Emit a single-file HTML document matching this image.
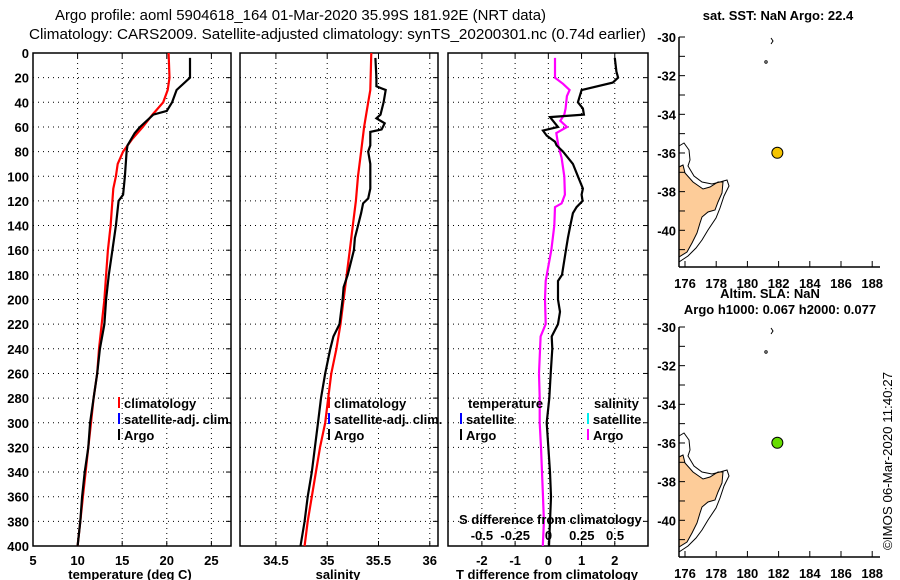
<!DOCTYPE html>
<html><head><meta charset="utf-8"><style>
body{margin:0;background:#fff}
svg{display:block;font-family:"Liberation Sans",sans-serif}
.t{font-size:13px;font-weight:bold;fill:#000}
</style></head><body>
<svg id="c" width="900" height="580" xmlns="http://www.w3.org/2000/svg">
<text x="55" y="20" font-size="15" textLength="491" lengthAdjust="spacingAndGlyphs">Argo profile: aoml 5904618_164 01-Mar-2020 35.99S 181.92E (NRT data)</text>
<text x="29" y="39" font-size="15" textLength="617" lengthAdjust="spacingAndGlyphs">Climatology: CARS2009. Satellite-adjusted climatology: synTS_20200301.nc (0.74d earlier)</text>
<g id="g"></g>
<text class="t" transform="translate(892,550) rotate(-90)" font-weight="normal" style="font-weight:normal" font-size="13" textLength="178" lengthAdjust="spacingAndGlyphs">©IMOS 06-Mar-2020 11:40:27</text>
</svg>
<script>
// ---- data ----
const tempArgoDepth=[4,20,30,40,47,50,60,65,75,80,100,115,120,140,160,180,200,220,240,260,280,300,320,340,360,380,400];
const tempArgo=[22.6,22.6,21.1,20.6,20.0,18.5,17.0,16.4,15.6,15.5,15.3,15.1,14.6,14.3,13.9,13.5,13.2,13.0,12.5,12.2,11.8,11.4,11.2,10.8,10.5,10.3,10.0];
const tempClimDepth=[0,20,30,40,50,60,70,80,90,100,110,120,140,160,180,200,220,240,260,280,300,320,340,360,380,400];
const tempClim=[20.2,20.3,20.1,19.6,18.4,17.3,16.1,15.1,14.5,14.3,14.0,13.9,13.7,13.4,13.2,13.0,12.7,12.4,12.2,11.8,11.5,11.2,10.9,10.6,10.3,10.0];
const salArgoDepth=[4,20,27,30,40,50,53,57,62,64,75,80,90,110,118,122,130,140,150,160,180,190,200,220,230,240,260,280,300,320,340,360,380,400];
const salArgo=[35.47,35.48,35.48,35.57,35.55,35.52,35.48,35.56,35.53,35.42,35.42,35.40,35.42,35.42,35.40,35.35,35.33,35.30,35.27,35.26,35.20,35.16,35.15,35.12,35.06,35.03,34.98,34.94,34.91,34.88,34.85,34.81,34.78,34.74];
const salClimDepth=[0,30,40,60,80,100,120,140,160,180,200,220,240,260,280,300,320,340,360,380,400];
const salClim=[35.43,35.42,35.40,35.36,35.33,35.30,35.28,35.25,35.22,35.19,35.16,35.13,35.09,35.04,35.01,34.98,34.93,34.89,34.85,34.81,34.78];
const tDiffDepth=[4,15,20,24,30,40,45,50,52,57,60,63,67,72,75,80,90,100,110,115,120,125,130,140,150,160,180,185,200,210,220,230,240,260,280,300,340,360,380,400];
const tDiff=[2.0,2.05,2.1,1.94,1.0,0.89,1.04,1.07,0.05,0.2,0.29,-0.16,-0.05,0.2,0.25,0.44,0.74,0.89,1.04,1.0,1.03,0.85,0.74,0.66,0.59,0.53,0.41,0.29,0.29,0.35,0.29,0.1,0.12,0.07,0.03,-0.05,0.05,0.08,0.05,0.02];
const sDiffDepth=[4,20,25,30,35,45,50,55,60,65,75,85,100,115,122,125,140,160,175,185,200,220,230,260,280,300,320,340,360,380,400];
const sDiff=[0.05,0.05,0.11,0.16,0.14,0.13,0.12,0.09,0.14,0.06,0.075,0.1,0.12,0.125,0.1,0.05,0.045,0.022,-0.003,-0.02,-0.025,-0.02,-0.058,-0.07,-0.065,-0.065,-0.055,-0.048,-0.04,-0.033,-0.042];
const depthTicks=[0,20,40,60,80,100,120,140,160,180,200,220,240,260,280,300,320,340,360,380,400];
const tempTicks=[5,10,15,20,25];
const salTicks=[34.5,35,35.5,36];
const tdTicks=[-2,-1,0,1,2];
const sdTicks=[-0.5,-0.25,0,0.25,0.5];
const lonTicks=[176,178,180,182,184,186,188];
const latTicks=[-30,-32,-34,-36,-38,-40];
const argoLon=[181.92], argoLat=[-35.99];

const NS="http://www.w3.org/2000/svg", G=document.getElementById('g');
function el(t,a,p){const e=document.createElementNS(NS,t);for(const k in a)e.setAttribute(k,a[k]);(p||G).appendChild(e);return e;}
const Y0=53,Y1=546; const yD=d=>Y0+(d)*(Y1-Y0)/400;
function panel(name,x0,x1,lo,hi,ticks,lbls,xtitle,tx){
  const g=el('g',{});
  
  
  const sx=v=>x0+(v-lo)*(x1-x0)/(hi-lo);
  ticks.forEach(v=>{el('line',{x1:sx(v),x2:sx(v),y1:Y0,y2:Y1,stroke:'#000','stroke-dasharray':'1,4','stroke-width':1},g);
    el('line',{x1:sx(v),x2:sx(v),y1:Y0,y2:Y0+5,stroke:'#000'},g);el('line',{x1:sx(v),x2:sx(v),y1:Y1,y2:Y1-5,stroke:'#000'},g);
    if(lbls){const t=el('text',{x:sx(v),y:565,'text-anchor':'middle',class:'t'},g);t.textContent=v;
      
      }});
  depthTicks.forEach(d=>{if(d>0&&d<400)el('line',{x1:x0,x2:x1,y1:yD(d),y2:yD(d),stroke:'#000','stroke-dasharray':'1,4'},g);
    el('line',{x1:x1,x2:x1-5,y1:yD(d),y2:yD(d),stroke:'#000'},g);});
  el('rect',{x:x0,y:Y0,width:x1-x0,height:Y1-Y0,fill:'none',stroke:'#000','stroke-width':1.5},g);
  const t=el('text',{x:tx,y:579,'text-anchor':'middle',class:'t'},g);t.textContent=xtitle;
  
  
  return {g,sx};
}
function line(p,xs,ds,col,name){
  const pts=xs.map((v,i)=>p.sx(v).toFixed(1)+','+yD(ds[i]).toFixed(1)).join(' ');
  const l=el('polyline',{points:pts,fill:'none',stroke:col,'stroke-width':2.2},p.g);
  
  
}
depthTicks.forEach(d=>{const t=el('text',{x:29,y:yD(d)+5,'text-anchor':'end',class:'t'});t.textContent=d;
  
  });
const p1=panel('temperature-panel',33,231,5,27.2,tempTicks,true,'temperature (deg C)',130);
line(p1,tempClim,tempClimDepth,'#f00','temperature-climatology-line');
line(p1,tempArgo,tempArgoDepth,'#000','temperature-argo-line');
const p2=panel('salinity-panel',240,438,34.15,36.08,salTicks,true,'salinity',338);
line(p2,salClim,salClimDepth,'#f00','salinity-climatology-line');
line(p2,salArgo,salArgoDepth,'#000','salinity-argo-line');
const p3=panel('difference-panel',448,648,-3.02,3.0,tdTicks,true,'T difference from climatology',547);
line(p3,sDiff.map(v=>v*4),sDiffDepth,'#f0f','salinity-difference-line');
line(p3,tDiff,tDiffDepth,'#000','temperature-difference-line');
function leg(x,y,col,txt,name){const g=el('g',{});
  
  
  if(col)el('rect',{x:x,y:y-11,width:2,height:11,fill:col},g);
  const t=el('text',{x:x+6,y:y,class:'t'},g);t.textContent=txt;}
leg(118,408,'#f00','climatology','legend-climatology');
leg(118,424,'#00f','satellite-adj. clim.','legend-satellite-adj');
leg(118,440,'#000','Argo','legend-argo');
leg(328,408,'#f00','climatology','legend-climatology-sal');
leg(328,424,'#00f','satellite-adj. clim.','legend-satellite-adj-sal');
leg(328,440,'#000','Argo','legend-argo-sal');
leg(462,408,null,'temperature','legend-temperature-heading');
leg(460,424,'#00f','satellite','legend-t-satellite');
leg(460,440,'#000','Argo','legend-t-argo');
leg(588,408,null,'salinity','legend-salinity-heading');
leg(587,424,'#0ee','satellite','legend-s-satellite');
leg(587,440,'#f0f','Argo','legend-s-argo');
{const t=el('text',{x:459,y:524,class:'t'});t.textContent='S difference from climatology';
 
 
 sdTicks.forEach(v=>{const s=el('text',{x:548.5+v*4*33.3,y:540,'text-anchor':'middle',class:'t'});s.textContent=v;
 
 });}
// maps
const mx=lon=>685+(lon-176)*15.6, my=lat=>37+(-30-lat)*19.33;
function map(off,dotCol,name,titles){
  const g=el('g',{transform:'translate(0,'+off+')'});
  
  
  el('polygon',{points:'679,167 683,165 685,173 693,182 703,189 710,187 718,182 723,182 722,193 718,202 715,210 708,212 702,217 700,223 697,233 692,243 687,252 679,257',fill:'#fdcc99',stroke:'#000','stroke-width':1},g);
  el('polyline',{points:'679,146 684,143 689,150 690,160 688,166 694,176 702,182 712,184 720,182 727,180 729,186 724,196 720,208 716,218 708,230 702,240 696,248 688,256 679,262',fill:'none',stroke:'#000','stroke-width':1},g);
  el('polyline',{points:'771,38 773,41 771,44',fill:'none',stroke:'#000'},g);
  el('circle',{cx:766,cy:62,r:1.2,fill:'none',stroke:'#000'},g);
  el('line',{x1:679,y1:37,x2:679,y2:267,stroke:'#000','stroke-width':1.5},g);
  el('line',{x1:679,y1:267,x2:880,y2:267,stroke:'#000','stroke-width':1.5},g);
  for(let la=-30;la>=-41;la--)el('line',{x1:679,x2:685,y1:my(la),y2:my(la),stroke:'#000'},g);
  lonTicks.forEach(lo=>{el('line',{x1:mx(lo),x2:mx(lo),y1:267,y2:261,stroke:'#000'},g);
    const t=el('text',{x:mx(lo),y:288,'text-anchor':'middle',class:'t'},g);t.textContent=lo;
    
    });
  latTicks.forEach(la=>{const t=el('text',{x:676,y:my(la)+5,'text-anchor':'end',class:'t'},g);t.textContent=la;
    
    });
  argoLon.forEach((lo,i)=>{const c=el('circle',{cx:mx(lo),cy:my(argoLat[i]),r:5.5,fill:dotCol,stroke:'#000','stroke-width':1},g);
    
    });
  titles.forEach((tt,i)=>{const t=el('text',{x:tt[1],y:tt[2],'text-anchor':'middle',class:'t'},g);t.textContent=tt[0];
    
    });
}
map(0,'#f5c400','sst-map',[['sat. SST: NaN Argo: 22.4',778,20]]);
map(290,'#66dd00','sla-map',[['Altim. SLA: NaN',770,8],['Argo h1000: 0.067 h2000: 0.077',780,24]]);
</script>
</body></html>
